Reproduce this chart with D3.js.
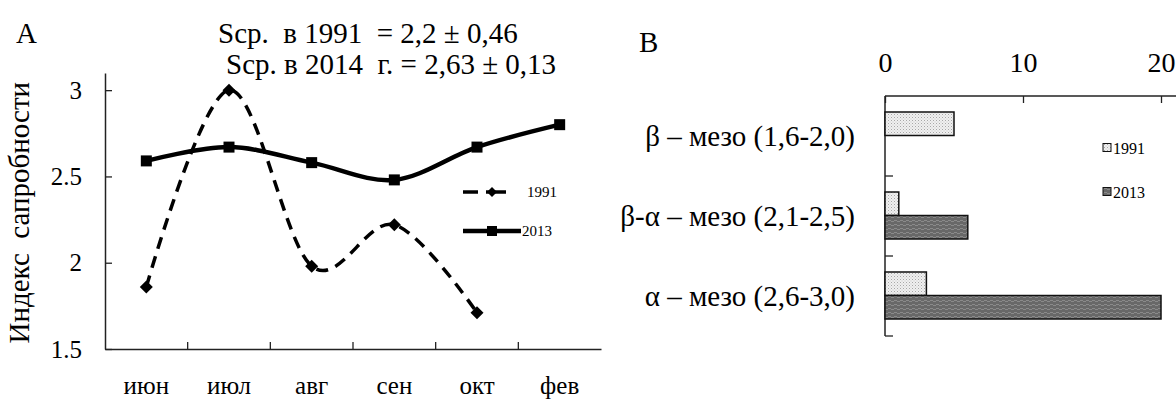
<!DOCTYPE html>
<html>
<head>
<meta charset="utf-8">
<script src="https://cdn.jsdelivr.net/npm/d3@7"></script>
<style>
  html, body { margin: 0; padding: 0; background: #fff; }
  svg { display: block; font-family: "Liberation Serif", "Times New Roman", "DejaVu Serif", serif; }
</style>
</head>
<body>
<svg id="chart" width="1176" height="401"></svg>
<script>
// Panel A: saprobity index by month
const months = ["июн", "июл", "авг", "сен", "окт", "фев"];
const series1991 = [1.86, 3.0, 1.98, 2.22, 1.71, null];
const series2013 = [2.59, 2.67, 2.58, 2.48, 2.67, 2.80];
const yTicksA = [1.5, 2, 2.5, 3];
const seriesNamesA = ["1991", "2013"];

// Panel B: number of species per saprobity zone
const zones = ["β – мезо (1,6-2,0)", "β-α – мезо (2,1-2,5)", "α – мезо (2,6-3,0)"];
const counts1991 = [5, 1, 3];
const counts2013 = [0, 6, 20];
const xTicksB = [0, 10, 20];
const seriesNamesB = ["1991", "2013"];

const FONT = "'Liberation Serif', 'Times New Roman', 'DejaVu Serif', serif";
const svg = d3.select("#chart");
const defs = svg.append("defs");

// ---------- Panel A ----------
const xA = d3.scaleBand().domain(months).range([105, 601]);
const yA = d3.scaleLinear().domain([1.5, 3.1]).range([349, 72.9]);

const gA = svg.append("g");

const yAxisA = d3.axisLeft(yA).tickValues(yTicksA)
  .tickFormat(d => Number.isInteger(d) ? String(d) : d3.format(".1f")(d))
  .tickSizeInner(-7).tickSizeOuter(0).tickPadding(23);
gA.append("g").attr("transform", "translate(105,0)").call(yAxisA)
  .call(g => g.attr("font-family", FONT))
  .call(g => g.select(".domain").attr("stroke", "#222").attr("stroke-width", 1.5))
  .call(g => g.selectAll(".tick line").attr("stroke", "#222").attr("stroke-width", 1.3))
  .call(g => g.selectAll("text").attr("font-size", 25).attr("fill", "#000"));

const xAxisA = d3.axisBottom(xA).tickSize(0).tickPadding(0);
const gx = gA.append("g").attr("transform", "translate(0,349)").call(xAxisA)
  .attr("font-family", FONT);
gx.select(".domain").attr("stroke", "#222").attr("stroke-width", 1.5);
gx.selectAll("text").attr("y", 45).attr("dy", null)
  .attr("font-size", 25).attr("fill", "#000");
// separators between month categories
gA.append("g").selectAll("line")
  .data(months.slice(1))
  .join("line")
  .attr("x1", d => xA(d)).attr("x2", d => xA(d))
  .attr("y1", 349).attr("y2", 342)
  .attr("stroke", "#222").attr("stroke-width", 1.3);

// y axis title
gA.append("text")
  .attr("transform", `translate(29,${yA(2.29)}) rotate(-90)`)
  .attr("text-anchor", "middle")
  .attr("font-size", 29)
  .attr("xml:space", "preserve")
  .style("white-space", "pre")
  .text("Индекс  сапробности");

const cx = d => xA(d) + xA.bandwidth() / 2;
const line = d3.line()
  .defined(d => d.v != null)
  .x(d => cx(d.m))
  .y(d => yA(d.v))
  .curve(d3.curveCardinal.tension(0));

const pts1991 = months.map((m, i) => ({ m, v: series1991[i] }));
const pts2013 = months.map((m, i) => ({ m, v: series2013[i] }));

gA.append("path").datum(pts2013)
  .attr("d", line).attr("fill", "none")
  .attr("stroke", "#000").attr("stroke-width", 4.5);

gA.append("path").datum(pts1991)
  .attr("d", line).attr("fill", "none")
  .attr("stroke", "#000").attr("stroke-width", 3.5)
  .attr("stroke-dasharray", "12,8");

// diamond marker, 13 px across
const diamondPath = "M0,-6.5L6.5,0L0,6.5L-6.5,0Z";
gA.append("g").selectAll("path")
  .data(pts1991.filter(d => d.v != null))
  .join("path")
  .attr("transform", d => `translate(${cx(d.m)},${yA(d.v)})`)
  .attr("d", diamondPath).attr("fill", "#000");

gA.append("g").selectAll("rect")
  .data(pts2013)
  .join("rect")
  .attr("x", d => cx(d.m) - 5.5).attr("y", d => yA(d.v) - 5.5)
  .attr("width", 11).attr("height", 11).attr("fill", "#000");

// legend
const legA = gA.append("g");
legA.append("line").attr("x1", 463).attr("x2", 478).attr("y1", 192).attr("y2", 192)
  .attr("stroke", "#000").attr("stroke-width", 3.5);
legA.append("line").attr("x1", 486).attr("x2", 506).attr("y1", 192).attr("y2", 192)
  .attr("stroke", "#000").attr("stroke-width", 3.5);
legA.append("path").attr("transform", "translate(492,192)").attr("d", "M0,-5L5,0L0,5L-5,0Z").attr("fill", "#000");
legA.append("text").attr("x", 527).attr("y", 197).attr("font-size", 15).text(seriesNamesA[0]);
legA.append("line").attr("x1", 463).attr("x2", 521).attr("y1", 231).attr("y2", 231)
  .attr("stroke", "#000").attr("stroke-width", 4.5);
legA.append("rect").attr("x", 487).attr("y", 226).attr("width", 10).attr("height", 10).attr("fill", "#000");
legA.append("text").attr("x", 522).attr("y", 236).attr("font-size", 15).text(seriesNamesA[1]);

// headings
svg.append("text").attr("x", 16).attr("y", 43).attr("font-size", 29).text("A");
svg.append("text").attr("x", 218).attr("y", 43).attr("font-size", 29)
  .attr("xml:space", "preserve").style("white-space", "pre")
  .text("Scp.  в 1991  = 2,2 ± 0,46");
svg.append("text").attr("x", 226).attr("y", 74).attr("font-size", 29)
  .attr("xml:space", "preserve").style("white-space", "pre")
  .text("Scp. в 2014  г. = 2,63 ± 0,13");

// ---------- Panel B ----------
const pat1 = defs.append("pattern").attr("id", "dots").attr("patternUnits", "userSpaceOnUse")
  .attr("width", 3).attr("height", 3);
pat1.append("rect").attr("width", 3).attr("height", 3).attr("fill", "#f0f0f0");
pat1.append("rect").attr("width", 1).attr("height", 1).attr("fill", "#a8a8a8");
pat1.append("rect").attr("x", 1.5).attr("y", 1.5).attr("width", 1).attr("height", 1).attr("fill", "#c4c4c4");

const pat2 = defs.append("pattern").attr("id", "waves").attr("patternUnits", "userSpaceOnUse")
  .attr("width", 6).attr("height", 4);
pat2.append("rect").attr("width", 6).attr("height", 4).attr("fill", "#686868");
pat2.append("rect").attr("y", 0).attr("width", 3).attr("height", 1).attr("fill", "#8a8a8a");
pat2.append("rect").attr("x", 3).attr("y", 1).attr("width", 3).attr("height", 1).attr("fill", "#8a8a8a");

const xB = d3.scaleLinear().domain([0, 20]).range([885, 1161]);
const yB = d3.scaleBand().domain(zones).range([96, 336]);
const ySub = d3.scaleBand().domain(seriesNamesB).range([16, 63]);

const gB = svg.append("g");

const topAxis = d3.axisTop(xB).tickValues(xTicksB).tickSizeInner(-7).tickSizeOuter(0).tickPadding(24);
gB.append("g").attr("transform", "translate(0,96)").call(topAxis)
  .attr("font-family", FONT)
  .call(g => g.select(".domain").remove())
  .call(g => g.selectAll(".tick line").attr("stroke", "#222").attr("stroke-width", 1.3))
  .call(g => g.selectAll("text").attr("font-size", 28).attr("fill", "#000"));
gB.append("line").attr("x1", 885).attr("x2", 1176).attr("y1", 96).attr("y2", 96)
  .attr("stroke", "#222").attr("stroke-width", 1.5);

gB.append("line").attr("x1", 885).attr("x2", 885).attr("y1", 96).attr("y2", 336)
  .attr("stroke", "#222").attr("stroke-width", 1.5);
gB.append("g").selectAll("line")
  .data(zones)
  .join("line")
  .attr("x1", 885).attr("x2", 893)
  .attr("y1", d => yB(d) + yB.bandwidth()).attr("y2", d => yB(d) + yB.bandwidth())
  .attr("stroke", "#222").attr("stroke-width", 1.3);

gB.append("g").selectAll("text")
  .data(zones)
  .join("text")
  .attr("x", 855).attr("y", d => yB(d) + yB.bandwidth() / 2 + 10)
  .attr("text-anchor", "end").attr("font-size", 29)
  .text(d => d);

const barsData = zones.flatMap((z, i) => [
  { z, s: "1991", v: counts1991[i] },
  { z, s: "2013", v: counts2013[i] }
]).filter(d => d.v > 0);

gB.append("g").selectAll("rect")
  .data(barsData)
  .join("rect")
  .attr("x", xB(0))
  .attr("y", d => yB(d.z) + ySub(d.s))
  .attr("width", d => xB(d.v) - xB(0))
  .attr("height", ySub.bandwidth())
  .attr("fill", d => d.s === "1991" ? "url(#dots)" : "url(#waves)")
  .attr("stroke", "#111").attr("stroke-width", 1.5);

const legB = gB.append("g");
seriesNamesB.forEach((s, i) => {
  const y = 148 + i * 44;
  legB.append("rect").attr("x", 1103).attr("y", y - 4.5).attr("width", 8).attr("height", 8)
    .attr("fill", s === "1991" ? "url(#dots)" : "url(#waves)")
    .attr("stroke", "#111").attr("stroke-width", 1);
  legB.append("text").attr("x", 1113).attr("y", y + 5.5).attr("font-size", 16).text(s);
});

svg.append("text").attr("x", 639).attr("y", 52).attr("font-size", 29).text("B");
</script>
</body>
</html>
